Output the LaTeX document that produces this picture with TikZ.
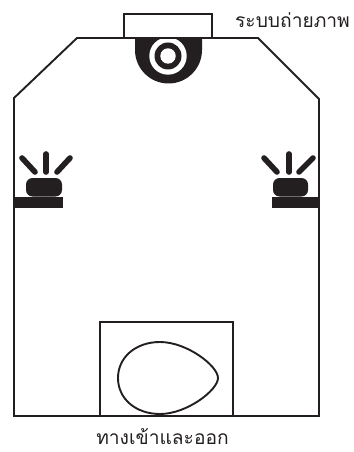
\documentclass[tikz,border=0pt]{standalone}
\usepackage{fontspec}
\newfontfamily\thaifont[Script=Thai]{Loma}
\definecolor{ink}{HTML}{231F20}
\tikzset{
  outline/.style={draw=ink,line width=1.9pt*0.75,line join=miter},
  ray/.style={draw=ink,line width=4.2pt,line cap=round},
  label/.style={font=\thaifont\fontsize{14.4pt}{16pt}\selectfont,text=ink,inner sep=0pt}
}
\begin{document}
\begin{tikzpicture}[x=0.75pt,y=-0.75pt]
\useasboundingbox (0,0) rectangle (353,452);
% camera
\fill[ink] (135,38) -- (135,50) arc[start angle=180,end angle=360,radius=33.5*0.75pt] -- (202,38) -- cycle;
\fill[white] (168,56) circle[radius=18.7*0.75pt];
\fill[ink] (168,56) circle[radius=13.5*0.75pt];
\fill[white] (168,56) circle[radius=7.7*0.75pt];
% body
\draw[outline] (14,416) -- (14,98) -- (77,38) -- (258,38) -- (319,99) -- (319,416) -- cycle;
\draw[outline,fill=white] (124,38) rectangle (212,14);
% left light
\fill[ink] (15,197) rectangle (63,208);
\fill[ink,rounded corners=6.5*0.75pt] (26,196.5) -- (26,178) -- (62,178) -- (62,196.5) -- cycle;
\draw[ray] (22,158) -- (35,172);
\draw[ray] (46,154) -- (46,172);
\draw[ray] (70,158) -- (57,172);
% right light
\fill[ink] (272,197) rectangle (319,208);
\fill[ink,rounded corners=6.5*0.75pt] (273,196.5) -- (273,178) -- (308,178) -- (308,196.5) -- cycle;
\draw[ray] (264,158) -- (277,172);
\draw[ray] (289,154) -- (289,172);
\draw[ray] (313,158) -- (299,172);
% door
\draw[outline] (100,416) -- (100,322) -- (233,322) -- (233,416);
\draw[outline] (118,378) .. controls (118,357) and (136,342) .. (160,342)
  .. controls (187,342) and (218,366) .. (218,378)
  .. controls (218,390) and (187,414) .. (160,414)
  .. controls (136,414) and (118,399) .. (118,378) -- cycle;
% labels
\node[label,anchor=center] (cam) at (292.5,20) {ระบบถ่ายภาพ};
\node[label,anchor=center] (door) at (162.5,437) {ทางเข้าและออก};
\end{tikzpicture}
\end{document}
